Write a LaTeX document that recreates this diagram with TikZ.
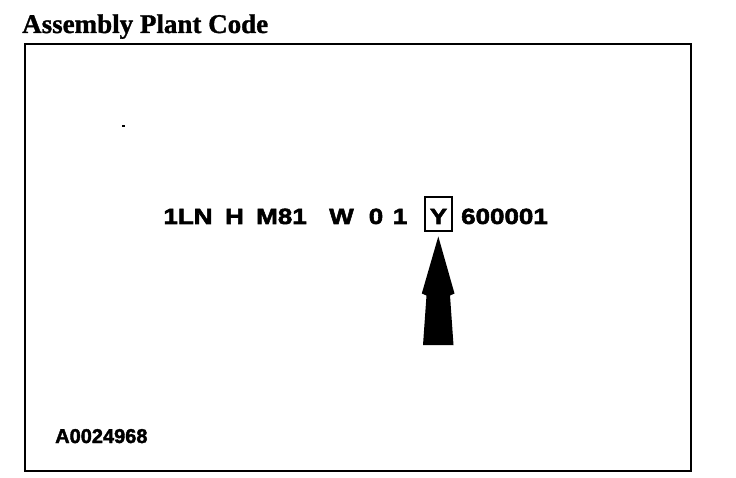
\documentclass[tikz,border=0pt]{standalone}
\usepackage{fontspec}
\setmainfont{Liberation Serif}
\newfontfamily\titlefont{Liberation Serif Bold}[FakeBold=1.2]
\newfontfamily\codefont{Liberation Sans Bold}[FakeBold=2]
\newfontfamily\widecodefont{Liberation Sans Bold}[FakeBold=2.5,FakeStretch=1.18]
\begin{document}
\begin{tikzpicture}[x=1pt,y=-1pt,
  ch/.style={inner sep=0pt,anchor=base,font=\widecodefont\fontsize{22}{22}\selectfont}]
\useasboundingbox (0,0) rectangle (736,478);
% title
\node[inner sep=0pt,anchor=base west,font=\titlefont\fontsize{27}{27}\selectfont] (title) at (22,33) {Assembly Plant Code};
% frame
\draw[line width=2.5pt] (25,44) rectangle (691,471);
% dot
\fill (122,125) rectangle (124.5,127.5);
% code groups
\foreach \c/\x [count=\i] in {1LN/188,H/234.5,M81/281.5,W/341.5,0/376,1/400,600001/504.5}
  \node[ch] (c\i) at (\x,224) {\c};
\node[ch] (y) at (438.5,224) {Y};
\draw[line width=2pt] (425,197) rectangle (452,231);
% arrow
\fill (438.3,236.5) -- (454.5,293.5) -- (450,295.5) -- (453.5,345) -- (423,345) -- (426.5,295.5) -- (421.8,293.5) -- cycle;
% label
\node[inner sep=0pt,anchor=base west,font=\codefont\fontsize{20}{20}\selectfont] (lab) at (55,443) {A0024968};
\end{tikzpicture}
\end{document}
